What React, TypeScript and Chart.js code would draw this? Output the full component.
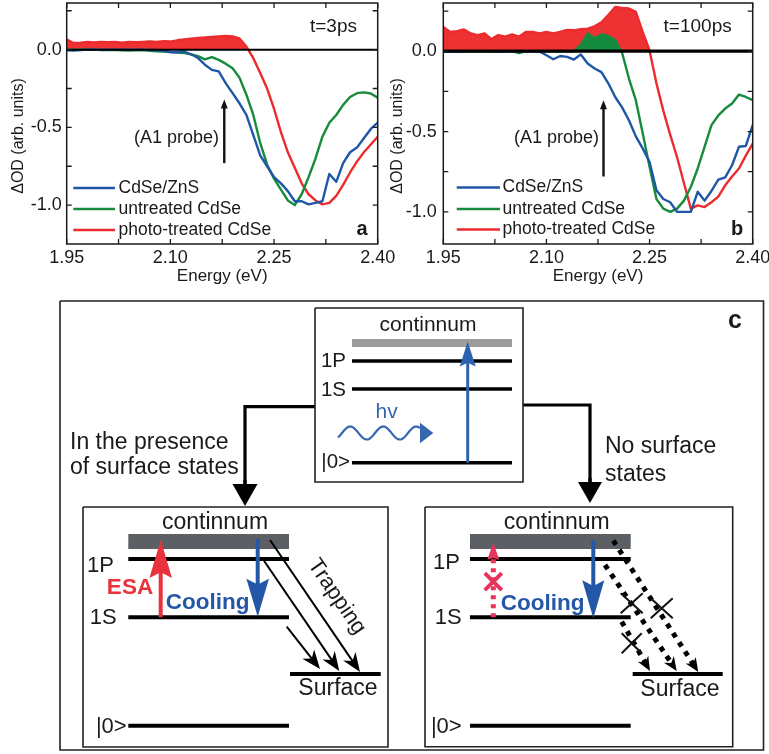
import { useEffect, useRef } from 'react';
import { Chart, registerables } from 'chart.js';

Chart.register(...registerables);

const FONT = '"Liberation Sans", Arial, Helvetica, sans-serif';
const INK = '#1a1a1a';
const BLUE = '#1f57a6';
const GREEN = '#178a3b';
const RED = '#ec2b2e';
const RED_FILL = '#ee3133';
const GREEN_FILL = '#138a3f';

// ---------------- data ----------------
const ENERGY = [1.95, 1.96, 1.97, 1.98, 1.99, 2.0, 2.01, 2.02, 2.03, 2.04, 2.05, 2.06, 2.07, 2.08, 2.09, 2.1, 2.11, 2.12, 2.13, 2.14, 2.15, 2.16, 2.17, 2.18, 2.19, 2.2, 2.21, 2.22, 2.23, 2.24, 2.25, 2.26, 2.27, 2.28, 2.29, 2.3, 2.31, 2.32, 2.33, 2.34, 2.35, 2.36, 2.37, 2.38, 2.39, 2.4];
const SERIES_NAMES = ['CdSe/ZnS', 'untreated CdSe', 'photo-treated CdSe'];

// panel a, t = 3 ps
const A_ZNS = [-0.004, -0.006, -0.003, 0, 0, 0, 0, 0, 0, 0, 0, 0, -0.002, -0.004, -0.008, -0.015, -0.017, -0.012, -0.03, -0.054, -0.097, -0.13, -0.14, -0.215, -0.28, -0.345, -0.42, -0.55, -0.68, -0.75, -0.82, -0.86, -0.91, -0.975, -0.975, -0.995, -0.985, -0.975, -0.8, -0.85, -0.73, -0.66, -0.63, -0.57, -0.51, -0.47];
const A_UNTREATED = [0, 0, 0, 0, 0, -0.002, -0.003, -0.002, -0.004, -0.006, -0.004, -0.003, -0.008, -0.01, -0.012, -0.015, -0.018, -0.022, -0.03, -0.042, -0.062, -0.048, -0.066, -0.09, -0.12, -0.18, -0.29, -0.42, -0.6, -0.74, -0.83, -0.9, -0.97, -1.0, -0.93, -0.82, -0.7, -0.56, -0.47, -0.42, -0.355, -0.305, -0.28, -0.275, -0.282, -0.31];
const A_PHOTO = [0.065, 0.043, 0.045, 0.05, 0.046, 0.05, 0.048, 0.05, 0.045, 0.05, 0.048, 0.05, 0.052, 0.05, 0.055, 0.052, 0.06, 0.065, 0.07, 0.075, 0.078, 0.082, 0.085, 0.088, 0.085, 0.072, 0.02, -0.055, -0.15, -0.25, -0.38, -0.53, -0.66, -0.76, -0.86, -0.93, -0.97, -0.995, -0.985, -0.94, -0.87, -0.79, -0.72, -0.66, -0.61, -0.56];

// panel b, t = 100 ps
const B_ZNS = [0, 0, -0.003, 0, 0, 0, 0, 0, -0.003, 0, 0, 0, 0, 0, -0.002, -0.025, -0.05, -0.03, -0.035, -0.052, -0.02, -0.077, -0.108, -0.13, -0.2, -0.285, -0.35, -0.43, -0.53, -0.605, -0.69, -0.865, -0.92, -0.94, -1.0, -1.0, -1.0, -0.875, -0.93, -0.87, -0.8, -0.785, -0.71, -0.595, -0.59, -0.46];
const B_UNTREATED = [0, 0, 0, 0, 0, 0, 0, 0, 0, 0, 0, -0.012, 0, 0, 0, 0, 0, 0, 0, 0, 0.04, 0.11, 0.08, 0.105, 0.095, 0.07, -0.01, -0.17, -0.305, -0.51, -0.72, -0.92, -0.98, -1.0, -0.98, -0.93, -0.845, -0.73, -0.595, -0.46, -0.4, -0.357, -0.326, -0.27, -0.285, -0.305];
const B_PHOTO = [0.15, 0.12, 0.125, 0.135, 0.11, 0.1, 0.11, 0.075, 0.1, 0.09, 0.104, 0.09, 0.12, 0.12, 0.11, 0.12, 0.11, 0.12, 0.133, 0.13, 0.137, 0.14, 0.155, 0.18, 0.225, 0.275, 0.27, 0.266, 0.245, 0.12, 0.005, -0.2, -0.37, -0.52, -0.66, -0.82, -0.98, -0.96, -0.97, -0.94, -0.905, -0.835, -0.78, -0.73, -0.65, -0.575];

const X_TICKS = [1.95, 2.1, 2.25, 2.4];
const X_MINOR_TICKS = [1.95, 2.025, 2.1, 2.175, 2.25, 2.325, 2.4];
const Y_TICKS = [-1.0, -0.5, 0.0];
const Y_MINOR_TICKS = [-1.0, -0.75, -0.5, -0.25, 0.0, 0.25];

type PanelSpec = {
  zns: number[]; untreated: number[]; photo: number[];
  yMin: number; yMax: number; greenFill: boolean;
  time: string; letter: string;
  probeE: number; probeFrom: number; probeTo: number;
  canvasLeft: number; canvasW: number; padRight: number; yAxisW: number; yLabelPad: number;
  yTitleX: number; zeroW: number; legX0: number; legX1: number; legTextX: number; legY: number[];
  timeRight: number; probeTextRight: number; letterX: number;
};

const PANEL_A: PanelSpec = {
  zns: A_ZNS, untreated: A_UNTREATED, photo: A_PHOTO,
  yMin: -1.25, yMax: 0.3, greenFill: false, time: 't=3ps', letter: 'a',
  probeE: 2.178, probeFrom: -0.73, probeTo: -0.32,
  canvasLeft: 0, canvasW: 400, padRight: 22.3, yAxisW: 66.7, yLabelPad: 5,
  yTitleX: 19, zeroW: 2, legX0: 73.3, legX1: 115, legTextX: 118.5, legY: [188, 209, 230],
  timeRight: 357, probeTextRight: 219, letterX: 362,
};
const PANEL_B: PanelSpec = {
  zns: B_ZNS, untreated: B_UNTREATED, photo: B_PHOTO,
  yMin: -1.2, yMax: 0.3, greenFill: true, time: 't=100ps', letter: 'b',
  probeE: 2.183, probeFrom: -0.78, probeTo: -0.305,
  canvasLeft: 385, canvasW: 384, padRight: 16.3, yAxisW: 58.3, yLabelPad: 6.5,
  yTitleX: 12.5, zeroW: 3.2, legX0: 71.7, legX1: 115, legTextX: 117.5, legY: [187.5, 209, 229.5],
  timeRight: 346.7, probeTextRight: 214, letterX: 352,
};

function panelPlugin(p: PanelSpec) {
  return {
    id: 'panelDeco',
    afterDatasetsDraw(chart: any) {
      const { ctx, chartArea: ca, scales } = chart;
      const xs = scales.x;
      const ys = scales.y;
      ctx.save();
      // zero line
      const y0 = ys.getPixelForValue(0);
      ctx.strokeStyle = '#000';
      ctx.lineWidth = p.zeroW;
      ctx.beginPath();
      ctx.moveTo(ca.left, y0);
      ctx.lineTo(ca.right, y0);
      ctx.stroke();
      // frame
      ctx.strokeStyle = INK;
      ctx.lineWidth = 1.5;
      ctx.strokeRect(ca.left, ca.top, ca.right - ca.left, ca.bottom - ca.top);
      // inward ticks on all sides
      ctx.lineWidth = 1.3;
      ctx.beginPath();
      for (const v of X_MINOR_TICKS) {
        const x = xs.getPixelForValue(v);
        ctx.moveTo(x, ca.bottom); ctx.lineTo(x, ca.bottom - 5);
        ctx.moveTo(x, ca.top); ctx.lineTo(x, ca.top + 5);
      }
      for (const v of Y_MINOR_TICKS) {
        const y = ys.getPixelForValue(v);
        ctx.moveTo(ca.left, y); ctx.lineTo(ca.left + 5, y);
        ctx.moveTo(ca.right, y); ctx.lineTo(ca.right - 5, y);
      }
      ctx.stroke();
      // legend
      const colors = [BLUE, GREEN, RED];
      ctx.font = `17.5px ${FONT}`;
      ctx.textAlign = 'left';
      ctx.textBaseline = 'middle';
      SERIES_NAMES.forEach((name, i) => {
        ctx.strokeStyle = colors[i];
        ctx.lineWidth = 2.5;
        ctx.beginPath();
        ctx.moveTo(p.legX0, p.legY[i]);
        ctx.lineTo(p.legX1, p.legY[i]);
        ctx.stroke();
        ctx.fillStyle = INK;
        ctx.fillText(name, p.legTextX, p.legY[i]);
      });
      // time label
      ctx.font = `19px ${FONT}`;
      ctx.textAlign = 'right';
      ctx.fillText(p.time, p.timeRight, 27);
      // probe annotation
      ctx.font = `18px ${FONT}`;
      ctx.fillText('(A1 probe)', p.probeTextRight, 138.5);
      const ax = xs.getPixelForValue(p.probeE);
      const a0 = ys.getPixelForValue(p.probeFrom);
      const a1 = ys.getPixelForValue(p.probeTo);
      ctx.strokeStyle = '#111';
      ctx.lineWidth = 2.4;
      ctx.beginPath();
      ctx.moveTo(ax, a0);
      ctx.lineTo(ax, a1 + 6);
      ctx.stroke();
      ctx.fillStyle = '#111';
      ctx.beginPath();
      ctx.moveTo(ax, a1);
      ctx.lineTo(ax - 3.5, a1 + 9);
      ctx.lineTo(ax + 3.5, a1 + 9);
      ctx.closePath();
      ctx.fill();
      // panel letter
      ctx.fillStyle = INK;
      ctx.font = `bold 20px ${FONT}`;
      ctx.textAlign = 'center';
      ctx.fillText(p.letter, p.letterX, 229);
      // y title
      ctx.save();
      ctx.translate(p.yTitleX, 136);
      ctx.rotate(-Math.PI / 2);
      ctx.font = `16px ${FONT}`;
      ctx.textAlign = 'center';
      ctx.fillText('\u0394OD (arb. units)', 0, 0);
      ctx.restore();
      ctx.restore();
    },
  };
}

function makePanelConfig(p: PanelSpec): any {
  const pts = (vals: number[]) => ENERGY.map((e, i) => ({ x: e, y: vals[i] }));
  const base = { pointRadius: 0, borderWidth: 2.4, tension: 0, borderJoinStyle: 'round' };
  return {
    type: 'line',
    data: {
      datasets: [
        { ...base, label: SERIES_NAMES[0], data: pts(p.zns), borderColor: BLUE, fill: false },
        {
          ...base, label: SERIES_NAMES[1], data: pts(p.untreated), borderColor: GREEN,
          fill: p.greenFill ? { target: { value: 0 }, above: GREEN_FILL, below: 'rgba(0,0,0,0)' } : false,
        },
        {
          ...base, label: SERIES_NAMES[2], data: pts(p.photo), borderColor: RED,
          fill: { target: { value: 0 }, above: RED_FILL, below: 'rgba(0,0,0,0)' },
        },
      ],
    },
    options: {
      responsive: false,
      animation: false,
      devicePixelRatio: 1,
      layout: { padding: { left: 0, right: p.padRight, top: 3, bottom: 0 } },
      plugins: { legend: { display: false }, tooltip: { enabled: false } },
      scales: {
        x: {
          type: 'linear', min: 1.95, max: 2.4,
          afterBuildTicks: (s: any) => { s.ticks = X_TICKS.map((v) => ({ value: v })); },
          afterFit: (s: any) => { s.height = 46; s.paddingLeft = 0; s.paddingRight = 0; },
          grid: { display: false, drawTicks: false },
          border: { display: false },
          ticks: {
            autoSkip: false, maxRotation: 0, padding: 3, color: INK,
            font: { family: FONT, size: 18 },
            callback: (v: any) => Number(v).toFixed(2),
          },
          title: {
            display: true, text: 'Energy (eV)', color: INK,
            font: { family: FONT, size: 17 }, padding: { top: 0, bottom: 3 },
          },
        },
        y: {
          type: 'linear', min: p.yMin, max: p.yMax,
          afterBuildTicks: (s: any) => { s.ticks = Y_TICKS.map((v) => ({ value: v })); },
          afterFit: (s: any) => { s.width = p.yAxisW; s.paddingTop = 0; s.paddingBottom = 0; },
          grid: { display: false, drawTicks: false },
          border: { display: false },
          ticks: {
            autoSkip: false, padding: p.yLabelPad, color: INK,
            font: { family: FONT, size: 18 },
            callback: (v: any) => Number(v).toFixed(1),
          },
        },
      },
    },
    plugins: [panelPlugin(p)],
  };
}

function PanelChart({ p }: { p: PanelSpec }) {
  const ref = useRef<HTMLCanvasElement>(null);
  useEffect(() => {
    const chart = new Chart(ref.current as HTMLCanvasElement, makePanelConfig(p));
    return () => chart.destroy();
  }, [p]);
  return (
    <canvas
      ref={ref}
      width={p.canvasW}
      height={290}
      style={{ position: 'absolute', left: p.canvasLeft, top: 0, width: p.canvasW, height: 290 }}
    />
  );
}

// ---------------- diagram (panel c) geometry ----------------
const OUTER_BOX = [60, 301, 763.5, 750];
const TOP_BOX = [315, 308, 523, 482];
const LEFT_BOX = [83, 507, 388, 747];
const RIGHT_BOX = [425, 507, 732.7, 746.7];
const TOP_LEVEL_Y = [361, 389, 462.7];
const TOP_LEVEL_X = [352, 512];
const LOWER_LEVEL_Y = [559, 617.3, 725.7];
const LEFT_LEVEL_X = [128.3, 289];
const RIGHT_LEVEL_X = [470, 630.7];
const SURFACE_Y = 674;
const LEFT_SURFACE_X = [290, 380.7];
const RIGHT_SURFACE_X = [632.7, 722.7];
const TOP_CONT_Y = 343;
const LOWER_CONT_Y = 541.5;
const LEFT_CONNECTOR = [[315, 406.7], [245, 406.7], [245, 488]];
const RIGHT_CONNECTOR = [[523, 405], [590, 405], [590, 486]];

const GAP = { x: NaN, y: NaN };
const seg = (x0: number, y0: number, x1: number, y1: number) => [{ x: x0, y: y0 }, { x: x1, y: y1 }, GAP];
const rect = (b: number[]) => [
  { x: b[0], y: b[1] }, { x: b[2], y: b[1] }, { x: b[2], y: b[3] }, { x: b[0], y: b[3] }, { x: b[0], y: b[1] }, GAP,
];
const poly = (pts: number[][]) => [...pts.map(([x, y]) => ({ x, y })), GAP];
const lineSet = (data: any[], color: string, width: number, cap = 'butt') => ({
  data, showLine: true, pointRadius: 0, borderColor: color, borderWidth: width,
  borderCapStyle: cap, borderJoinStyle: 'miter', fill: false, tension: 0, clip: false,
});

const DIAGRAM_DATASETS = [
  lineSet([...rect(OUTER_BOX), ...rect(TOP_BOX), ...rect(LEFT_BOX), ...rect(RIGHT_BOX)], '#222', 1.6),
  lineSet(TOP_LEVEL_Y.flatMap((y) => seg(TOP_LEVEL_X[0], y, TOP_LEVEL_X[1], y)), '#000', 3.6),
  lineSet([
    ...LOWER_LEVEL_Y.flatMap((y) => seg(LEFT_LEVEL_X[0], y, LEFT_LEVEL_X[1], y)),
    ...LOWER_LEVEL_Y.flatMap((y) => seg(RIGHT_LEVEL_X[0], y, RIGHT_LEVEL_X[1], y)),
    ...seg(LEFT_SURFACE_X[0], SURFACE_Y, LEFT_SURFACE_X[1], SURFACE_Y),
    ...seg(RIGHT_SURFACE_X[0], SURFACE_Y, RIGHT_SURFACE_X[1], SURFACE_Y),
  ], '#000', 4),
  lineSet(seg(TOP_LEVEL_X[0], TOP_CONT_Y, TOP_LEVEL_X[1], TOP_CONT_Y), '#9c9c9c', 8),
  lineSet([
    ...seg(LEFT_LEVEL_X[0], LOWER_CONT_Y, LEFT_LEVEL_X[1], LOWER_CONT_Y),
    ...seg(RIGHT_LEVEL_X[0], LOWER_CONT_Y, RIGHT_LEVEL_X[1], LOWER_CONT_Y),
  ], '#5c6064', 15),
  lineSet([...poly(LEFT_CONNECTOR), ...poly(RIGHT_CONNECTOR)], '#000', 3.2),
];

type Lbl = { t: string; x: number; y: number; s: number; a?: CanvasTextAlign; c?: string; b?: boolean; r?: number };
const DIAGRAM_LABELS: Lbl[] = [
  { t: 'continnum', x: 428, y: 325, s: 21 },
  { t: '1P', x: 346, y: 361, s: 20.5, a: 'right' },
  { t: '1S', x: 346, y: 390, s: 20.5, a: 'right' },
  { t: '|0>', x: 350, y: 462.5, s: 20.5, a: 'right' },
  { t: 'hv', x: 386.7, y: 412, s: 21, c: '#3566b0' },
  { t: 'In the presence', x: 70, y: 443, s: 23, a: 'left' },
  { t: 'of surface states', x: 70, y: 468, s: 23, a: 'left' },
  { t: 'No surface', x: 605, y: 446.7, s: 23, a: 'left' },
  { t: 'states', x: 605, y: 475, s: 23, a: 'left' },
  { t: 'c', x: 735, y: 321, s: 25, b: true },
  { t: 'continnum', x: 215, y: 523, s: 23 },
  { t: '1P', x: 114, y: 566, s: 22, a: 'right' },
  { t: '1S', x: 116.7, y: 618, s: 22, a: 'right' },
  { t: '|0>', x: 126.7, y: 727, s: 22, a: 'right' },
  { t: 'Surface', x: 338, y: 689, s: 23 },
  { t: 'ESA', x: 130, y: 588, s: 22.5, b: true, c: '#e8323c' },
  { t: 'Cooling', x: 207.7, y: 602.7, s: 22.5, b: true, c: '#2457a7' },
  { t: 'Trapping', x: 336.7, y: 596.7, s: 22, r: 0.972 },
  { t: 'continnum', x: 556.7, y: 522.7, s: 23 },
  { t: '1P', x: 460, y: 563, s: 22, a: 'right' },
  { t: '1S', x: 461.7, y: 618, s: 22, a: 'right' },
  { t: '|0>', x: 461.7, y: 727, s: 22, a: 'right' },
  { t: 'Surface', x: 680, y: 689.3, s: 23 },
  { t: 'Cooling', x: 542.7, y: 603.3, s: 22.5, b: true, c: '#2457a7' },
];

// arrows: [x0, y0, x1(tip), y1(tip), color, lineWidth, headLen, headHalf, notch, dash]
type Arr = [number, number, number, number, string, number, number, number, number, number[]];
const DIAGRAM_ARROWS: Arr[] = [
  [467.7, 462.7, 467.7, 341.5, '#2f62ae', 3, 25, 8, 0.15, []],
  [245, 480, 245, 506, '#000', 3.2, 22, 12.5, 0, []],
  [590, 478, 590, 503, '#000', 3.2, 21, 12, 0, []],
  [160.7, 617.3, 160.7, 540, '#e8323c', 4, 38, 11.3, 0.15, []],
  [257.7, 539, 257.7, 616.7, '#2457a7', 4, 38, 11.3, 0.15, []],
  [270, 540, 360, 672, '#000', 2, 19, 7.5, 0.3, []],
  [264, 560.7, 339.3, 671, '#000', 2, 19, 7.5, 0.3, []],
  [286.7, 626.7, 320, 669, '#000', 2, 19, 7.5, 0.3, []],
  [593.3, 540.7, 593.3, 618.3, '#2457a7', 4, 38, 11, 0.15, []],
  [493.3, 617.3, 493.3, 542.7, '#e8335c', 5, 17, 6, 0.1, [4, 5]],
  [613.3, 540.7, 698.3, 672, '#000', 5, 14, 6, 0.3, [5, 6]],
  [605, 565, 676.7, 671, '#000', 5, 14, 6, 0.3, [5, 6]],
  [621.7, 621.7, 650, 671, '#000', 5, 14, 6, 0.3, [5, 6]],
];
// crosses: [x, y, halfW, halfH, color, lineWidth]
type Cross = [number, number, number, number, string, number];
const DIAGRAM_CROSSES: Cross[] = [
  [493.3, 581.7, 8.5, 8.5, '#e8335c', 4],
  [631.7, 603.3, 11, 10, '#111', 2],
  [661.7, 608.3, 11, 10, '#111', 2],
  [631.7, 643.3, 10, 10, '#111', 2],
];
const WAVE = { x0: 338, x1: 420, y: 433, amp: 6.5, period: 33, phase: 342, tipX: 433.3, halfH: 10.3 };

const diagramPlugin = {
  id: 'diagramDeco',
  afterDatasetsDraw(chart: any) {
    const { ctx, scales } = chart;
    const X = (v: number) => scales.x.getPixelForValue(v);
    const Y = (v: number) => scales.y.getPixelForValue(v);
    ctx.save();
    // arrows
    for (const [x0, y0, x1, y1, color, lw, len, half, notch, dash] of DIAGRAM_ARROWS) {
      const px0 = X(x0), py0 = Y(y0), px1 = X(x1), py1 = Y(y1);
      const L = Math.hypot(px1 - px0, py1 - py0);
      const dx = (px1 - px0) / L, dy = (py1 - py0) / L;
      const back = len * (1 - notch) * 0.9;
      ctx.strokeStyle = color;
      ctx.lineWidth = lw;
      ctx.setLineDash(dash);
      ctx.beginPath();
      ctx.moveTo(px0, py0);
      ctx.lineTo(px1 - dx * back, py1 - dy * back);
      ctx.stroke();
      ctx.setLineDash([]);
      const bx = px1 - dx * len, by = py1 - dy * len;
      const nx = -dy, ny = dx;
      ctx.fillStyle = color;
      ctx.beginPath();
      ctx.moveTo(px1, py1);
      ctx.lineTo(bx + nx * half, by + ny * half);
      ctx.lineTo(px1 - dx * len * (1 - notch), py1 - dy * len * (1 - notch));
      ctx.lineTo(bx - nx * half, by - ny * half);
      ctx.closePath();
      ctx.fill();
    }
    // crosses
    for (const [x, y, hw, hh, color, lw] of DIAGRAM_CROSSES) {
      ctx.strokeStyle = color;
      ctx.lineWidth = lw;
      ctx.beginPath();
      ctx.moveTo(X(x - hw), Y(y - hh)); ctx.lineTo(X(x + hw), Y(y + hh));
      ctx.moveTo(X(x + hw), Y(y - hh)); ctx.lineTo(X(x - hw), Y(y + hh));
      ctx.stroke();
    }
    // wavy photon
    ctx.strokeStyle = '#3566b0';
    ctx.lineWidth = 2.2;
    ctx.beginPath();
    for (let x = WAVE.x0; x <= WAVE.x1; x += 1) {
      const yy = WAVE.y - WAVE.amp * Math.sin((2 * Math.PI * (x - WAVE.phase)) / WAVE.period);
      if (x === WAVE.x0) ctx.moveTo(X(x), Y(yy)); else ctx.lineTo(X(x), Y(yy));
    }
    ctx.stroke();
    ctx.fillStyle = '#3566b0';
    ctx.beginPath();
    ctx.moveTo(X(WAVE.tipX), Y(WAVE.y));
    ctx.lineTo(X(WAVE.x1), Y(WAVE.y - WAVE.halfH));
    ctx.lineTo(X(WAVE.x1), Y(WAVE.y + WAVE.halfH));
    ctx.closePath();
    ctx.fill();
    // labels
    for (const l of DIAGRAM_LABELS) {
      ctx.save();
      ctx.translate(X(l.x), Y(l.y));
      if (l.r) ctx.rotate(l.r);
      ctx.font = `${l.b ? 'bold ' : ''}${l.s}px ${FONT}`;
      ctx.fillStyle = l.c ?? INK;
      ctx.textAlign = l.a ?? 'center';
      ctx.textBaseline = 'middle';
      ctx.fillText(l.t, 0, 0);
      ctx.restore();
    }
    ctx.restore();
  },
};

function Diagram() {
  const ref = useRef<HTMLCanvasElement>(null);
  useEffect(() => {
    const chart = new Chart(ref.current as HTMLCanvasElement, {
      type: 'scatter',
      data: { datasets: DIAGRAM_DATASETS as any },
      options: {
        responsive: false,
        animation: false,
        devicePixelRatio: 1,
        layout: { padding: 0 },
        plugins: { legend: { display: false }, tooltip: { enabled: false } },
        scales: {
          x: { type: 'linear', min: 0, max: 769, display: false },
          y: { type: 'linear', min: 290, max: 754, reverse: true, display: false },
        },
      } as any,
      plugins: [diagramPlugin],
    });
    return () => chart.destroy();
  }, []);
  return (
    <canvas
      ref={ref}
      width={769}
      height={464}
      style={{ position: 'absolute', left: 0, top: 290, width: 769, height: 464 }}
    />
  );
}

export default function App() {
  return (
    <div style={{ position: 'absolute', left: 0, top: 0, width: 769, height: 754, background: '#fff', overflow: 'hidden' }}>
      <PanelChart p={PANEL_A} />
      <PanelChart p={PANEL_B} />
      <Diagram />
    </div>
  );
}
